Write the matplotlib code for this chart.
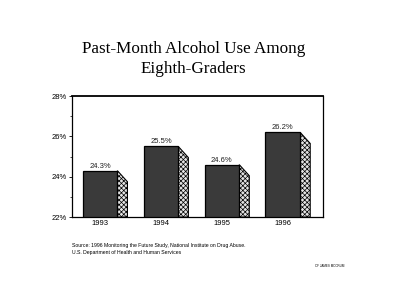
import matplotlib.pyplot as plt
from matplotlib.patches import Polygon
from matplotlib.ticker import MultipleLocator, FuncFormatter

years = ['1993', '1994', '1995', '1996']
values = [24.3, 25.5, 24.6, 26.2]
value_labels = ['24.3%', '25.5%', '24.6%', '26.2%']

plt.rcParams['hatch.color'] = '#8c8c8c'
plt.rcParams['hatch.linewidth'] = 0.5

fig = plt.figure(figsize=(4, 3.07), dpi=100)
ax = fig.add_axes([0.18, 0.293, 0.6275, 0.394])

barWidth = 0.57
depth = 0.165
drop = 0.55
x = list(range(len(years)))

ax.bar(x, [v - 22 for v in values], bottom=22, width=barWidth,
       color='#3a3a3a', edgecolor='black', linewidth=0.9, zorder=3)

for xi, v, lab in zip(x, values, value_labels):
    r = xi + barWidth / 2
    side = Polygon([(r, 22), (r, v), (r + depth, v - drop), (r + depth, 22)],
                   closed=True, facecolor='#e4e4e4', edgecolor='black',
                   hatch='xxxxxxx', linewidth=0.8, zorder=2)
    ax.add_patch(side)
    ax.text(xi, v + 0.05, lab, ha='center', va='bottom', fontsize=5.5,
            family='Liberation Sans', color='#222222')

ax.set_xlim(-0.46, 3.66)
ax.set_ylim(22, 28)
ax.set_xticks(x)
ax.set_xticklabels(years, fontsize=5.5, family='Liberation Sans')
ax.tick_params(axis='x', length=0, pad=2)
ax.yaxis.set_major_locator(MultipleLocator(2))
ax.yaxis.set_minor_locator(MultipleLocator(1))
ax.yaxis.set_major_formatter(FuncFormatter(lambda v, p: '%d%%' % v))
ax.tick_params(axis='y', labelsize=5.5, length=2, width=0.6, pad=2)
ax.tick_params(axis='y', which='minor', length=1.2, width=0.5)
for lbl in ax.get_yticklabels():
    lbl.set_family('Liberation Sans')
for s in ax.spines.values():
    s.set_linewidth(0.9)
ax.spines['top'].set_linewidth(1.3)

fig.text(0.483, 0.808, 'Past-Month Alcohol Use Among\nEighth-Graders',
         ha='center', va='center', fontsize=12.3, family='Liberation Serif',
         linespacing=1.3)

fig.text(0.18, 0.19, 'Source: 1996 Monitoring the Future Study, National Institute on Drug Abuse.\n'
         'U.S. Department of Health and Human Services',
         ha='left', va='center', fontsize=3.7, family='Liberation Sans', linespacing=1.5)
fig.text(0.86, 0.135, 'CF JAMES MCCRUM', ha='right', va='center',
         fontsize=2.2, family='Liberation Sans')

plt.savefig('out.png', dpi=100)
